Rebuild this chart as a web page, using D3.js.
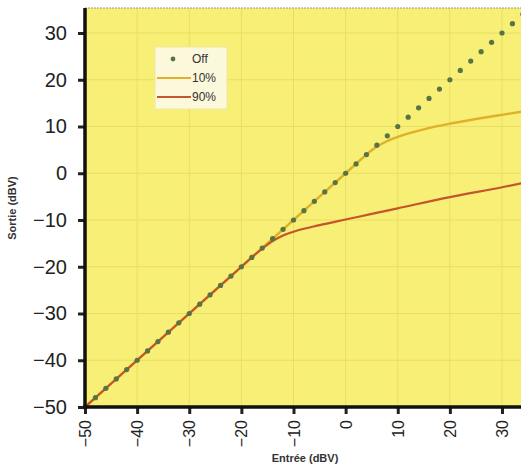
<!DOCTYPE html>
<html>
<head>
<meta charset="utf-8">
<script src="https://cdn.jsdelivr.net/npm/d3@7"></script>
<style>
  body { margin: 0; background: #fff; }
  svg { display: block; font-family: "Liberation Sans", Arial, sans-serif; }
</style>
</head>
<body>
<svg id="chart" width="521" height="466"></svg>
<script>
// tick values for both axes
const xTicks = [-50, -40, -30, -20, -10, 0, 10, 20, 30];
const yTicks = [-50, -40, -30, -20, -10, 0, 10, 20, 30];

// "Off" = no compression, one dot every 2 dB
const offX = [-50, -48, -46, -44, -42, -40, -38, -36, -34, -32, -30, -28, -26, -24, -22, -20,
  -18, -16, -14, -12, -10, -8, -6, -4, -2, 0, 2, 4, 6, 8, 10, 12, 14, 16, 18, 20, 22, 24, 26, 28, 30, 32, 34];
const offY = [-50, -48, -46, -44, -42, -40, -38, -36, -34, -32, -30, -28, -26, -24, -22, -20,
  -18, -16, -14, -12, -10, -8, -6, -4, -2, 0, 2, 4, 6, 8, 10, 12, 14, 16, 18, 20, 22, 24, 26, 28, 30, 32, 34];

// 10 %
const c10X = [-50, -30, -10, 0, 2, 4, 6, 8, 10, 15, 20, 25, 30, 34];
const c10Y = [-50, -30, -10, 0, 2, 4, 5.7, 6.9, 7.8, 9.4, 10.6, 11.6, 12.5, 13.2];

// 90 %
const c90X = [-50, -30, -20, -18, -16, -14, -12, -10, -5, 0, 5, 10, 20, 30, 34];
const c90Y = [-50, -30, -20, -18, -16.1, -14.5, -13.3, -12.5, -11.1, -9.9, -8.7, -7.5, -5.1, -3.0, -2.1];

const svg = d3.select("#chart");
const W = 521, plotTop = 8;

const x = d3.scaleLinear().domain([-50, 30]).range([85, 502]);
const y = d3.scaleLinear().domain([-50, 30]).range([407, 33]);

// plot background
svg.append("rect")
  .attr("x", x(-50)).attr("y", plotTop)
  .attr("width", W - x(-50)).attr("height", y(-50) - plotTop)
  .attr("fill", "#f7ef76");

// grid
const grid = svg.append("g").attr("stroke", "#e9de62").attr("stroke-width", 1);
grid.selectAll(".gx").data(xTicks.slice(1)).join("line")
  .attr("x1", d => x(d)).attr("x2", d => x(d))
  .attr("y1", plotTop).attr("y2", y(-50));
grid.selectAll(".gy").data(yTicks.slice(1)).join("line")
  .attr("y1", d => y(d)).attr("y2", d => y(d))
  .attr("x1", x(-50)).attr("x2", W);

// top border
svg.append("line")
  .attr("x1", x(-50)).attr("x2", W).attr("y1", plotTop).attr("y2", plotTop)
  .attr("stroke", "#9a9a8a").attr("stroke-width", 1.2).attr("stroke-dasharray", "2,1");

const line = d3.line().x(d => x(d[0])).y(d => y(d[1])).curve(d3.curveMonotoneX);

const plot = svg.append("g");
plot.append("path")
  .datum(c10X.map((v, i) => [v, c10Y[i]]))
  .attr("d", line).attr("fill", "none")
  .attr("stroke", "#e0b127").attr("stroke-width", 2.4);
plot.append("path")
  .datum(c90X.map((v, i) => [v, c90Y[i]]))
  .attr("d", line).attr("fill", "none")
  .attr("stroke", "#c4562b").attr("stroke-width", 2.2);
plot.selectAll(".off").data(offX.map((v, i) => [v, offY[i]]))
  .join("circle")
  .attr("cx", d => x(d[0])).attr("cy", d => y(d[1])).attr("r", 2.6)
  .attr("fill", "#587445");

// axes
const xAxis = svg.append("g")
  .attr("transform", `translate(0,${y(-50)})`)
  .call(d3.axisBottom(x).tickValues(xTicks).tickSize(7).tickSizeOuter(0).tickFormat(d3.format("d")));
xAxis.select(".domain").remove();
xAxis.selectAll(".tick line").attr("stroke", "#222").attr("stroke-width", 3);
xAxis.selectAll(".tick text")
  .attr("transform", "rotate(-90)")
  .attr("x", -13).attr("y", 0).attr("dy", "0.35em")
  .attr("text-anchor", "end")
  .attr("font-size", 16).attr("fill", "#222");

const yAxis = svg.append("g")
  .attr("transform", `translate(${x(-50)},0)`)
  .call(d3.axisLeft(y).tickValues(yTicks).tickSize(7).tickSizeOuter(0).tickFormat(d3.format("d")));
yAxis.select(".domain").remove();
yAxis.selectAll(".tick line").attr("stroke", "#222").attr("stroke-width", 3);
yAxis.selectAll(".tick text")
  .attr("x", -18).attr("font-size", 20).attr("fill", "#222");

svg.append("line")
  .attr("x1", x(-50)).attr("x2", W).attr("y1", y(-50)).attr("y2", y(-50))
  .attr("stroke", "#111").attr("stroke-width", 3.5);
svg.append("line")
  .attr("x1", x(-50)).attr("x2", x(-50)).attr("y1", plotTop).attr("y2", y(-50) + 1.5)
  .attr("stroke", "#111").attr("stroke-width", 3.5);

// axis titles
svg.append("text")
  .attr("x", 305).attr("y", 462)
  .attr("text-anchor", "middle").attr("font-size", 11).attr("font-weight", "bold")
  .attr("fill", "#333").text("Entrée (dBV)");
svg.append("text")
  .attr("transform", "translate(16,208) rotate(-90)")
  .attr("text-anchor", "middle").attr("font-size", 11).attr("font-weight", "bold")
  .attr("fill", "#333").text("Sortie (dBV)");

// legend
const lg = svg.append("g");
lg.append("rect")
  .attr("x", 155).attr("y", 47).attr("width", 72).attr("height", 62)
  .attr("fill", "#fbf8dc").attr("stroke", "#f0e8a0");
const items = [
  {label: "Off", type: "dot", color: "#587445"},
  {label: "10%", type: "line", color: "#e0b127"},
  {label: "90%", type: "line", color: "#c4562b"}
];
items.forEach((it, i) => {
  const yy = 59 + i * 19;
  if (it.type === "dot") {
    lg.append("circle").attr("cx", 173).attr("cy", yy).attr("r", 2.4).attr("fill", it.color);
  } else {
    lg.append("line").attr("x1", 157).attr("x2", 191).attr("y1", yy).attr("y2", yy)
      .attr("stroke", it.color).attr("stroke-width", 2);
  }
  lg.append("text").attr("x", 192).attr("y", yy).attr("dy", "0.35em")
    .attr("font-size", 12).attr("fill", "#333").text(it.label);
});
</script>
</body>
</html>
